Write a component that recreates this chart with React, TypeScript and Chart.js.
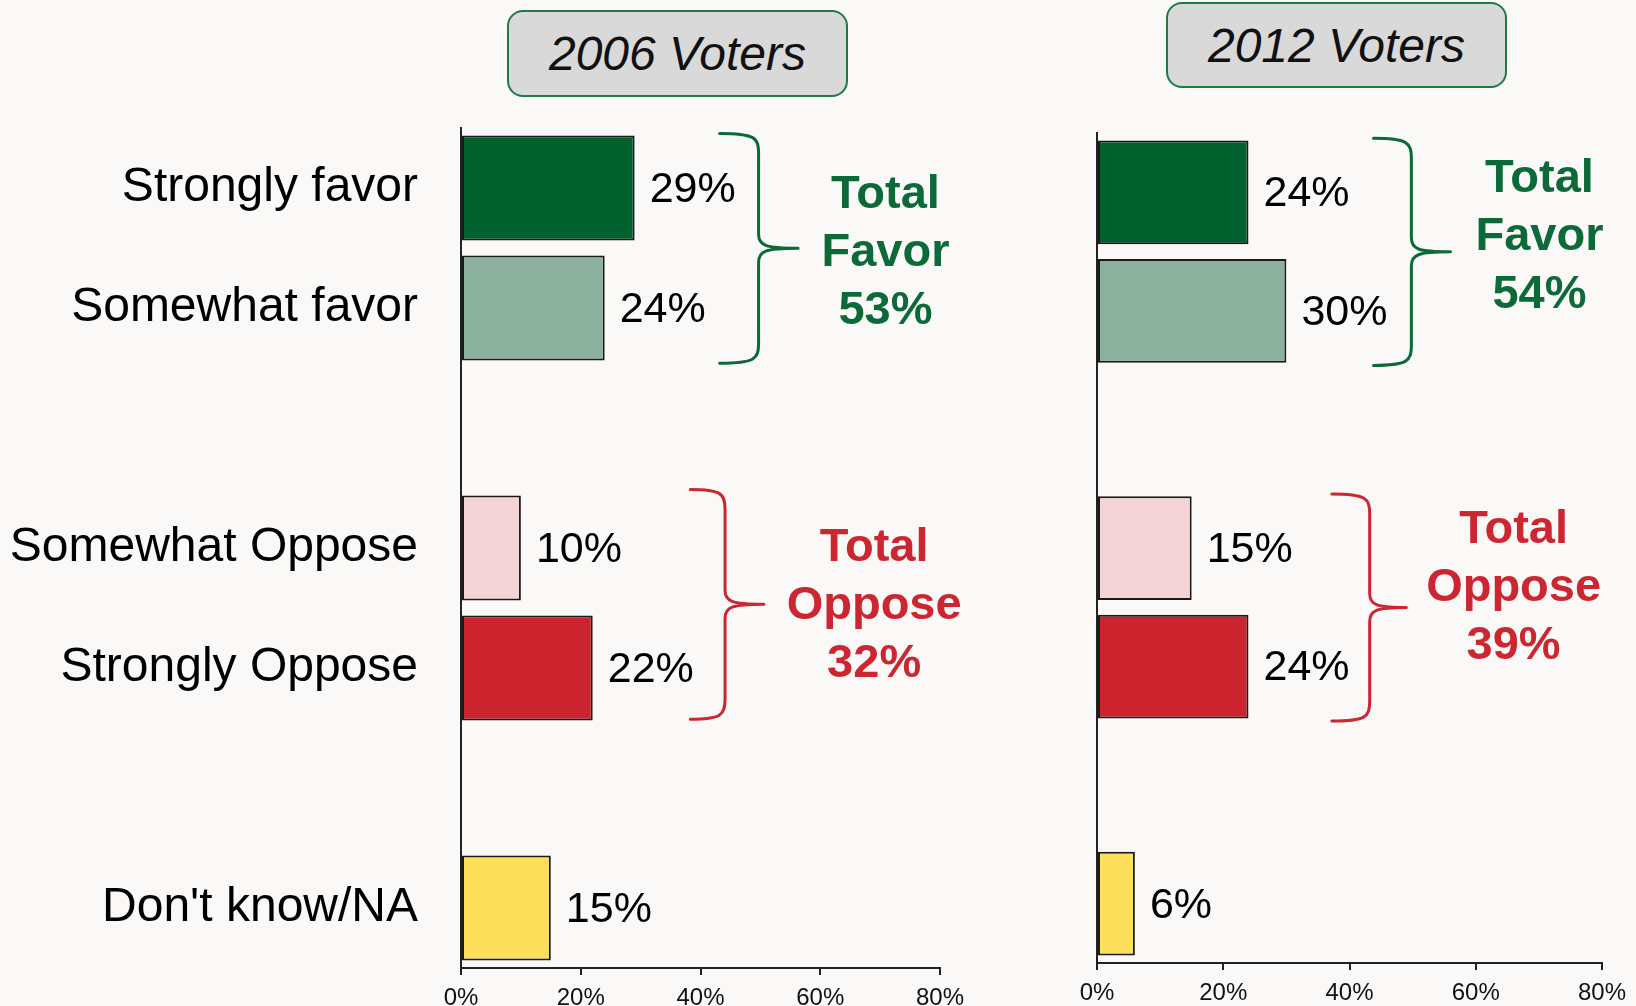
import React, { useEffect, useRef } from 'react';
import { Chart, registerables } from 'chart.js';

Chart.register(...registerables);

// ---------- data ----------
const categories = ['Strongly favor', 'Somewhat favor', '', 'Somewhat Oppose', 'Strongly Oppose', '', "Don't know/NA"];
const voters2006: (number | null)[] = [29, 24, null, 10, 22, null, 15];
const voters2012: (number | null)[] = [24, 30, null, 15, 24, null, 6];
const xTicks = [0, 20, 40, 60, 80];
const panelTitles = ['2006 Voters', '2012 Voters'];
const totalFavor = [53, 54];
const totalOppose = [32, 39];
const favorRows = [0, 1];
const opposeRows = [3, 4];

// ---------- styles ----------
const FONT = '"Liberation Sans", Arial, Helvetica, sans-serif';
const BG = '#FAF9F7';
const GREEN = '#0B6A37';
const RED = '#CC2631';
const AXIS = '#222222';
const barColors = ['#00612E', '#8BB09E', 'transparent', '#F4D3D7', '#CB242E', 'transparent', '#FDDF5C'];

type Brace = { x0: number; xv: number; xt: number; tx: number; tyOff: number; dy: number };
type PanelCfg = {
  left: number; width: number; padTop: number; axisH: number; yAxisW: number; padRight: number;
  showLabels: boolean; favor: Brace; oppose: Brace;
  titleBox: { left: number; top: number; width: number; height: number };
};

const panels: PanelCfg[] = [
  {
    left: 0, width: 1000, padTop: 128, axisH: 38, yAxisW: 461, padRight: 60, showLabels: true,
    favor: { x0: 43.2, xv: 49.7, xt: 56.3, tx: 70.9, tyOff: 3, dy: 0 },
    oppose: { x0: 38.3, xv: 44.1, xt: 50.6, tx: 69, tyOff: 0, dy: -4 },
    titleBox: { left: 507, top: 10, width: 341, height: 87 },
  },
  {
    left: 1000, width: 636, padTop: 133, axisH: 43, yAxisW: 97, padRight: 34, showLabels: false,
    favor: { x0: 43.8, xv: 49.8, xt: 56, tx: 70.1, tyOff: -17, dy: 0 },
    oppose: { x0: 37.2, xv: 43.2, xt: 49, tx: 66, tyOff: -22, dy: 0 },
    titleBox: { left: 1166, top: 2, width: 341, height: 86 },
  },
];

function drawBrace(ctx: CanvasRenderingContext2D, x0: number, xv: number, xt: number, top: number, bottom: number, color: string) {
  const mid = (top + bottom) / 2;
  const r = 20;
  const r2 = 14;
  ctx.save();
  ctx.strokeStyle = color;
  ctx.lineWidth = 3;
  ctx.lineCap = 'round';
  ctx.beginPath();
  ctx.moveTo(x0, top);
  ctx.bezierCurveTo(xv - 4, top, xv, top + 4, xv, top + r);
  ctx.lineTo(xv, mid - r2);
  ctx.bezierCurveTo(xv, mid - 3, xv + 6, mid, xt, mid);
  ctx.moveTo(xt, mid);
  ctx.bezierCurveTo(xv + 6, mid, xv, mid + 3, xv, mid + r2);
  ctx.lineTo(xv, bottom - r);
  ctx.bezierCurveTo(xv, bottom - 4, xv - 4, bottom, x0, bottom);
  ctx.stroke();
  ctx.restore();
}

function Panel({ cfg, values, favorTotal, opposeTotal }: { cfg: PanelCfg; values: (number | null)[]; favorTotal: number; opposeTotal: number }) {
  const ref = useRef<HTMLCanvasElement>(null);
  useEffect(() => {
    if (!ref.current) return;
    const annotations = {
      id: 'annotations',
      afterDatasetsDraw(chart: any) {
        const ctx: CanvasRenderingContext2D = chart.ctx;
        const xs = chart.scales.x;
        const ys = chart.scales.y;
        const meta = chart.getDatasetMeta(0);
        // value labels
        ctx.save();
        ctx.fillStyle = '#000';
        ctx.font = `43px ${FONT}`;
        ctx.textAlign = 'left';
        ctx.textBaseline = 'middle';
        values.forEach((v, i) => {
          if (v == null) return;
          const el = meta.data[i];
          ctx.fillText(`${v}%`, el.x + 15, el.y + 2);
        });
        ctx.restore();
        // braces + totals
        const slot = ys.getPixelForValue(1) - ys.getPixelForValue(0);
        const groups = [
          { rows: favorRows, b: cfg.favor, color: GREEN, lines: ['Total', 'Favor', `${favorTotal}%`] },
          { rows: opposeRows, b: cfg.oppose, color: RED, lines: ['Total', 'Oppose', `${opposeTotal}%`] },
        ];
        groups.forEach(({ rows, b, color, lines }) => {
          const top = ys.getPixelForValue(rows[0]) - slot * 0.455 + b.dy;
          const bottom = ys.getPixelForValue(rows[1]) + slot * 0.46 + b.dy;
          drawBrace(ctx, xs.getPixelForValue(b.x0), xs.getPixelForValue(b.xv), xs.getPixelForValue(b.xt), top, bottom, color);
          const cy = (top + bottom) / 2 + b.tyOff;
          const cx = xs.getPixelForValue(b.tx);
          ctx.save();
          ctx.fillStyle = color;
          ctx.font = `bold 47px ${FONT}`;
          ctx.textAlign = 'center';
          ctx.textBaseline = 'middle';
          lines.forEach((t, k) => ctx.fillText(t, cx, cy + (k - 1) * 58 + 2));
          ctx.restore();
        });
      },
    };
    const chart = new Chart(ref.current, {
      type: 'bar',
      data: {
        labels: categories,
        datasets: [
          {
            data: values as any,
            backgroundColor: barColors,
            borderColor: '#1a1a1a',
            borderWidth: 2,
            borderSkipped: false,
            categoryPercentage: 1,
            barPercentage: 0.875,
          },
        ],
      },
      options: {
        indexAxis: 'y',
        responsive: false,
        animation: false,
        devicePixelRatio: 1,
        layout: { padding: { left: 0, top: cfg.padTop, right: cfg.padRight, bottom: 0 } },
        plugins: { legend: { display: false }, tooltip: { enabled: false }, title: { display: false } },
        scales: {
          x: {
            type: 'linear',
            min: xTicks[0],
            max: xTicks[xTicks.length - 1],
            afterBuildTicks: (s: any) => { s.ticks = xTicks.map((v) => ({ value: v })); },
            afterFit: (s: any) => { s.height = cfg.axisH; },
            ticks: {
              callback: (v: any) => `${v}%`,
              font: { family: FONT, size: 24 },
              color: '#111',
              padding: 9,
              maxRotation: 0,
              autoSkip: false,
            },
            grid: { display: true, drawOnChartArea: false, drawTicks: true, tickLength: 7, color: AXIS, lineWidth: 2 },
            border: { display: true, color: AXIS, width: 2 },
          },
          y: {
            type: 'category',
            afterFit: (s: any) => { s.width = cfg.yAxisW; },
            ticks: {
              display: cfg.showLabels,
              font: { family: FONT, size: 48 },
              color: '#000',
              padding: 0,
              autoSkip: false,
            },
            grid: { display: true, drawOnChartArea: false, drawTicks: true, tickLength: 43, color: 'transparent' },
            border: { display: true, color: AXIS, width: 2 },
          },
        },
      },
      plugins: [annotations],
    } as any);
    return () => chart.destroy();
  }, []);
  return (
    <canvas
      ref={ref}
      width={cfg.width}
      height={1006}
      style={{ position: 'absolute', left: cfg.left, top: 0, width: cfg.width, height: 1006 }}
    />
  );
}

export default function App() {
  const series = [voters2006, voters2012];
  return (
    <div style={{ position: 'absolute', left: 0, top: 0, width: 1636, height: 1006, background: BG, overflow: 'hidden', fontFamily: FONT }}>
      {panels.map((cfg, i) => (
        <React.Fragment key={i}>
          <Panel cfg={cfg} values={series[i]} favorTotal={totalFavor[i]} opposeTotal={totalOppose[i]} />
          <div
            style={{
              position: 'absolute',
              left: cfg.titleBox.left,
              top: cfg.titleBox.top,
              width: cfg.titleBox.width,
              height: cfg.titleBox.height,
              boxSizing: 'border-box',
              border: '2.5px solid #1E7A46',
              borderRadius: 16,
              background: '#D9D9D9',
              display: 'flex',
              alignItems: 'center',
              justifyContent: 'center',
              fontStyle: 'italic',
              fontSize: 48,
              color: '#111',
            }}
          >
            {panelTitles[i]}
          </div>
        </React.Fragment>
      ))}
    </div>
  );
}
